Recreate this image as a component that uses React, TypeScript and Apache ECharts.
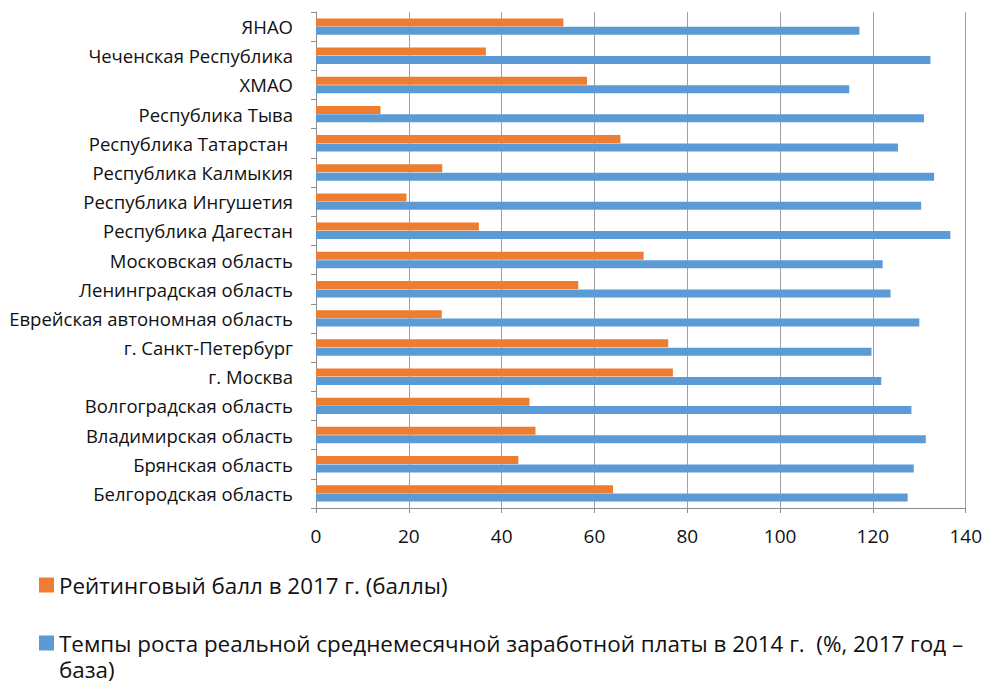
import React, { useEffect, useRef } from "react";
import * as echarts from "echarts";

// Regions, listed bottom to top along the category axis
const regions: string[] = [
  "Белгородская область",
  "Брянская область",
  "Владимирская область",
  "Волгоградская область",
  "г. Москва",
  "г. Санкт-Петербург",
  "Еврейская автономная область",
  "Ленинградская область",
  "Московская область",
  "Республика Дагестан",
  "Республика Ингушетия",
  "Республика Калмыкия",
  "Республика Татарстан ",
  "Республика Тыва",
  "ХМАО",
  "Чеченская Республика",
  "ЯНАО",
];

const ratingName = "Рейтинговый балл в 2017 г. (баллы)";
const wageName =
  "Темпы роста реальной среднемесячной заработной платы в 2014 г.  (%, 2017 год – база)";
// The long legend entry wraps after the dash
const wageLegendText =
  "Темпы роста реальной среднемесячной заработной платы в 2014 г.  (%, 2017 год –\nбаза)";

const ratingScores: number[] = [
  64.0, 43.6, 47.3, 46.0, 76.9, 75.9, 27.1, 56.5, 70.6, 35.1, 19.5, 27.2, 65.6,
  13.9, 58.4, 36.6, 53.3,
];

const wageGrowth: number[] = [
  127.5, 128.8, 131.4, 128.3, 121.8, 119.7, 130.0, 123.8, 122.1, 136.7, 130.4,
  133.2, 125.4, 131.0, 114.9, 132.4, 117.1,
];

const xTicks = { min: 0, max: 140, interval: 20 };

const FONT = "'Open Sans', 'Noto Sans', sans-serif";
const TEXT = "#111111";

// Square swatch sitting at the top of a taller legend item, so it lines up
// with the first line of a wrapped label
const topSwatch = "path://M0,0L15,0L15,15L0,15Z M0,41L0.01,41Z";

export default function App() {
  const ref = useRef<HTMLDivElement>(null);

  useEffect(() => {
    if (!ref.current) return;
    const chart = echarts.init(ref.current, undefined, { renderer: "svg" });
    chart.setOption({
      animation: false,
      backgroundColor: "#ffffff",
      grid: { left: 316, right: 19, top: 12, bottom: 175, containLabel: false },
      xAxis: {
        type: "value",
        min: xTicks.min,
        max: xTicks.max,
        interval: xTicks.interval,
        axisLine: { show: true, lineStyle: { color: "#8c8c8c", width: 1 } },
        axisTick: { show: true, length: 5, lineStyle: { color: "#8c8c8c" } },
        axisLabel: {
          margin: 18,
          fontSize: 19,
          fontFamily: FONT,
          color: TEXT,
        },
        splitLine: { show: true, lineStyle: { color: "#a0a0a0", width: 1 } },
      },
      yAxis: {
        type: "category",
        data: regions,
        axisLine: { show: true, lineStyle: { color: "#8c8c8c", width: 1 } },
        axisTick: { show: true, length: 5, lineStyle: { color: "#8c8c8c" } },
        axisLabel: {
          margin: 23,
          fontSize: 18.5,
          fontFamily: FONT,
          color: TEXT,
        },
        splitLine: { show: false },
      },
      legend: [
        {
          data: [ratingName],
          orient: "vertical",
          left: 39,
          top: 571,
          padding: 0,
          itemWidth: 15,
          itemHeight: 15,
          itemGap: 0,
          icon: "rect",
          textStyle: {
            fontSize: 22.4,
            lineHeight: 28,
            fontFamily: FONT,
            color: TEXT,
          },
        },
        {
          data: [wageName],
          orient: "vertical",
          left: 39,
          top: 630,
          padding: 0,
          itemWidth: 15,
          itemHeight: 41,
          itemGap: 0,
          icon: topSwatch,
          formatter: () => wageLegendText,
          textStyle: {
            fontSize: 22.4,
            lineHeight: 26,
            fontFamily: FONT,
            color: TEXT,
          },
        },
      ],
      series: [
        {
          name: ratingName,
          type: "bar",
          data: ratingScores,
          barWidth: 8,
          barGap: "5%",
          itemStyle: { color: "#ED7D31" },
        },
        {
          name: wageName,
          type: "bar",
          data: wageGrowth,
          barWidth: 8,
          barGap: "5%",
          itemStyle: { color: "#5B9BD5" },
        },
      ],
    });
    return () => chart.dispose();
  }, []);

  return (
    <div
      ref={ref}
      style={{ position: "absolute", left: 0, top: 0, width: 985, height: 683 }}
    />
  );
}
